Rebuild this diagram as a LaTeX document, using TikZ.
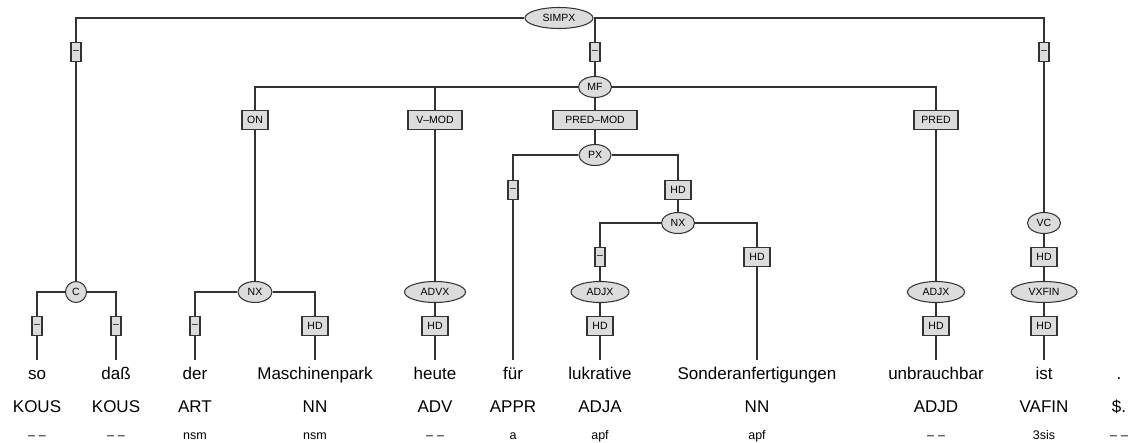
\documentclass[tikz,border=0pt]{standalone}
\usepackage{fontspec}
\setmainfont{Liberation Sans}
\usepackage{tikz}
\usetikzlibrary{shapes.geometric}
\definecolor{ink}{HTML}{333333}
\definecolor{shade}{HTML}{DCDCDC}
\newcommand{\nodash}{\textendash\hspace{4pt}\textendash}
\begin{document}
\begin{tikzpicture}[x=1pt,y=-1pt,cat/.style={ellipse,draw=ink,line width=1.05pt,fill=shade,inner sep=0pt,minimum height=21pt,minimum width=#1,font=\fontsize{10.5}{12}\selectfont},cat/.default=33pt,fn/.style={rectangle,draw=ink,line width=1.05pt,fill=shade,inner sep=0pt,minimum height=19pt,minimum width=#1,font=\fontsize{10.5}{12}\selectfont},fn/.default=26pt,nofn/.style={fn=10pt},word/.style={anchor=base,inner sep=0pt,text height=20pt,font=\fontsize{17}{20}\selectfont},tag/.style={anchor=base,inner sep=0pt,font=\fontsize{17}{20}\selectfont},morph/.style={anchor=base,inner sep=0pt,font=\fontsize{12.5}{14}\selectfont},link/.style={draw=ink,line width=1.05pt}]
\useasboundingbox (0,0) rectangle (1133,443);
\node[cat=68pt] (simpx) at (559,18) {SIMPX};
\node[nofn] (d1) at (76,52) {\textendash};
\node[nofn] (d2) at (595,52) {\textendash};
\node[nofn] (d3) at (1044,52) {\textendash};
\node[cat] (mf) at (595,87) {MF};
\node[fn] (on) at (255,120) {ON};
\node[fn=54pt] (vmod) at (435,120) {V\textendash MOD};
\node[fn=84pt] (predmod) at (595,120) {PRED\textendash MOD};
\node[fn=44pt] (pred) at (936,120) {PRED};
\node[cat=32pt] (px) at (595,155) {PX};
\node[nofn] (d7) at (513,190) {\textendash};
\node[fn] (hd3) at (678,190) {HD};
\node[cat] (nx2) at (678,223) {NX};
\node[cat] (vc) at (1044,223) {VC};
\node[nofn] (d8) at (600,257) {\textendash};
\node[fn] (hd4) at (757,257) {HD};
\node[fn] (hd7) at (1044,257) {HD};
\node[cat=21pt] (c) at (76,292) {C};
\node[cat=34pt] (nx1) at (255,292) {NX};
\node[cat=61pt] (advx) at (435,292) {ADVX};
\node[cat=58pt] (adjx1) at (600,292) {ADJX};
\node[cat=57pt] (adjx2) at (936,292) {ADJX};
\node[cat=66pt] (vxfin) at (1044,292) {VXFIN};
\node[nofn] (d4) at (37,326) {\textendash};
\node[nofn] (d5) at (116,326) {\textendash};
\node[nofn] (d6) at (195,326) {\textendash};
\node[fn] (hd1) at (315,326) {HD};
\node[fn] (hd2) at (435,326) {HD};
\node[fn] (hd5) at (600,326) {HD};
\node[fn] (hd6) at (936,326) {HD};
\node[fn] (hd8) at (1044,326) {HD};
\node[word] (so) at (37,380) {so};
\node[word] (dass) at (116,380) {daß};
\node[word] (der) at (195,380) {der};
\node[word] (park) at (315,380) {Maschinenpark};
\node[word] (heute) at (435,380) {heute};
\node[word] (fuer) at (513,380) {für};
\node[word] (lukr) at (600,380) {lukrative};
\node[word] (sonder) at (757,380) {Sonderanfertigungen};
\node[word] (unbr) at (936,380) {unbrauchbar};
\node[word] (ist) at (1044,380) {ist};
\node[word] (punct) at (1119,380) {.};
\node[tag] (so-pos) at (37,413) {KOUS};
\node[tag] (dass-pos) at (116,413) {KOUS};
\node[tag] (der-pos) at (195,413) {ART};
\node[tag] (park-pos) at (315,413) {NN};
\node[tag] (heute-pos) at (435,413) {ADV};
\node[tag] (fuer-pos) at (513,413) {APPR};
\node[tag] (lukr-pos) at (600,413) {ADJA};
\node[tag] (sonder-pos) at (757,413) {NN};
\node[tag] (unbr-pos) at (936,413) {ADJD};
\node[tag] (ist-pos) at (1044,413) {VAFIN};
\node[tag] (punct-pos) at (1119,413) {\$.};
\node[morph] (so-m) at (37,440) {\nodash};
\node[morph] (dass-m) at (116,440) {\nodash};
\node[morph] (der-m) at (195,440) {nsm};
\node[morph] (park-m) at (315,440) {nsm};
\node[morph] (heute-m) at (435,440) {\nodash};
\node[morph] (fuer-m) at (513,440) {a};
\node[morph] (lukr-m) at (600,440) {apf};
\node[morph] (sonder-m) at (757,440) {apf};
\node[morph] (unbr-m) at (936,440) {\nodash};
\node[morph] (ist-m) at (1044,440) {3sis};
\node[morph] (punct-m) at (1119,440) {\nodash};
\draw[link] (simpx) -| (d1) -- (c);
\draw[link] (simpx) -| (d2) -- (mf);
\draw[link] (simpx) -| (d3) -- (vc);
\draw[link] (c) -| (d4) -- (so);
\draw[link] (c) -| (d5) -- (dass);
\draw[link] (mf) -| (on) -- (nx1);
\draw[link] (mf) -| (vmod) -- (advx);
\draw[link] (mf) -- (predmod) -- (px);
\draw[link] (mf) -| (pred) -- (adjx2);
\draw[link] (nx1) -| (d6) -- (der);
\draw[link] (nx1) -| (hd1) -- (park);
\draw[link] (advx) -- (hd2) -- (heute);
\draw[link] (px) -| (d7) -- (fuer);
\draw[link] (px) -| (hd3) -- (nx2);
\draw[link] (nx2) -| (d8) -- (adjx1);
\draw[link] (nx2) -| (hd4) -- (sonder);
\draw[link] (adjx1) -- (hd5) -- (lukr);
\draw[link] (adjx2) -- (hd6) -- (unbr);
\draw[link] (vc) -- (hd7) -- (vxfin) -- (hd8) -- (ist);
\end{tikzpicture}
\end{document}
